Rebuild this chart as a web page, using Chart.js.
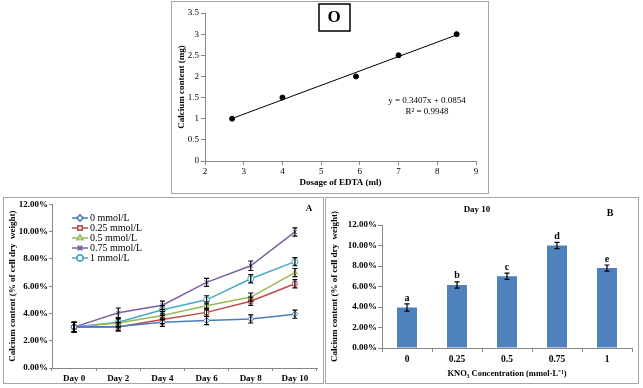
<!DOCTYPE html>
<html>
<head>
<meta charset="utf-8">
<script src="https://cdn.jsdelivr.net/npm/chart.js@4.4.1/dist/chart.umd.min.js"></script>
<style>
  body { margin: 0; background: #fff; }
  #wrap { position: relative; width: 643px; height: 388px; overflow: hidden; }
  .panel { position: absolute; border: 1px solid #a6a6a6; box-sizing: border-box; background: #fff; }
  canvas { display: block; }
</style>
</head>
<body>
<div id="wrap">
  <div class="panel" style="left:171px;top:1px;width:318px;height:193px"><canvas id="edtaChart" width="316" height="191"></canvas></div>
  <div class="panel" style="left:3px;top:197px;width:321px;height:187px"><canvas id="timeChart" width="319" height="185"></canvas></div>
  <div class="panel" style="left:325px;top:197px;width:314px;height:187px"><canvas id="day10Chart" width="312" height="185"></canvas></div>
</div>
<script>
// standard curve (top)
const edtaDose = [2.7, 4, 5.9, 7, 8.5];
const calciumMg = [1, 1.5, 2, 2.5, 3];
const fitSlope = 0.3407;
const fitIntercept = 0.0854;

// panel A: calcium content over time (%)
const days = ['Day 0', 'Day 2', 'Day 4', 'Day 6', 'Day 8', 'Day 10'];
const seriesNames = ['0 mmol/L', '0.25 mmol/L', '0.5 mmol/L', '0.75 mmol/L', '1 mmol/L'];
const ca0 = [3.0, 3.05, 3.35, 3.48, 3.6, 3.95];
const ca025 = [3.0, 3.0, 3.55, 4.08, 4.9, 6.18];
const ca05 = [3.0, 3.3, 3.85, 4.56, 5.2, 7.0];
const ca075 = [3.0, 4.05, 4.6, 6.28, 7.5, 9.98];
const ca1 = [3.0, 3.35, 4.27, 5.0, 6.55, 7.8];
const err0 = [0.35, 0.3, 0.3, 0.3, 0.3, 0.3];
const err025 = [0.35, 0.3, 0.3, 0.3, 0.3, 0.3];
const err05 = [0.35, 0.3, 0.3, 0.3, 0.3, 0.3];
const err075 = [0.35, 0.35, 0.3, 0.3, 0.35, 0.3];
const err1 = [0.35, 0.3, 0.3, 0.3, 0.3, 0.3];

// panel B: day 10
const kno3Levels = ['0', '0.25', '0.5', '0.75', '1'];
const day10Values = [3.95, 6.15, 7.0, 10.0, 7.8];
const day10Err = [0.35, 0.3, 0.3, 0.3, 0.3];
const sigLetters = ['a', 'b', 'c', 'd', 'e'];

const FONT = '"Liberation Serif", "Times New Roman", serif';
Chart.defaults.font.family = FONT;
Chart.defaults.color = '#000';
const AXIS = '#868686';

// error bars drawn through the chart's own scales
const errorBars = {
  id: 'errorBars',
  afterDatasetsDraw(chart) {
    const ctx = chart.ctx;
    const y = chart.scales.y;
    chart.data.datasets.forEach((ds, i) => {
      if (!ds.errors) return;
      const meta = chart.getDatasetMeta(i);
      meta.data.forEach((el, j) => {
        const v = ds.data[j];
        const e = ds.errors[j];
        const top = y.getPixelForValue(v + e);
        const bot = y.getPixelForValue(v - e);
        ctx.save();
        ctx.strokeStyle = '#000';
        ctx.lineWidth = 1.2;
        ctx.beginPath();
        ctx.moveTo(el.x, top); ctx.lineTo(el.x, bot);
        ctx.moveTo(el.x - 2.5, top); ctx.lineTo(el.x + 2.5, top);
        ctx.moveTo(el.x - 2.5, bot); ctx.lineTo(el.x + 2.5, bot);
        ctx.stroke();
        if (ds.letters) {
          ctx.font = 'bold 10px ' + FONT;
          ctx.fillStyle = '#000';
          ctx.textAlign = 'center';
          ctx.textBaseline = 'bottom';
          ctx.fillText(ds.letters[j], el.x, top - 1);
        }
        ctx.restore();
      });
    });
  }
};

// free text labels
const notes = {
  id: 'notes',
  afterDraw(chart, args, opts) {
    const ctx = chart.ctx;
    (opts.items || []).forEach(it => {
      ctx.save();
      ctx.font = it.font;
      ctx.fillStyle = '#000';
      ctx.textAlign = it.align || 'center';
      ctx.textBaseline = 'middle';
      if (it.box) {
        ctx.strokeStyle = '#000';
        ctx.lineWidth = 1.5;
        ctx.strokeRect(it.box[0], it.box[1], it.box[2], it.box[3]);
      }
      ctx.fillText(it.text, it.x, it.y);
      ctx.restore();
    });
  }
};

// legend inside panel A
const innerLegend = {
  id: 'innerLegend',
  afterDraw(chart) {
    const ctx = chart.ctx;
    chart.data.datasets.forEach((ds, i) => {
      const y = 20 + i * 10;
      ctx.save();
      ctx.strokeStyle = ds.borderColor;
      ctx.lineWidth = 1.5;
      ctx.beginPath();
      ctx.moveTo(68, y); ctx.lineTo(84, y);
      ctx.stroke();
      Chart.helpers.drawPoint(ctx, {
        pointStyle: ds.pointStyle, radius: 3, rotation: 0, borderWidth: 1
      }, 76, y);
      ctx.fillStyle = '#fff';
      ctx.strokeStyle = ds.borderColor;
      ctx.fill();
      ctx.stroke();
      ctx.font = '10px ' + FONT;
      ctx.fillStyle = '#000';
      ctx.textBaseline = 'middle';
      ctx.fillText(ds.label, 86, y + 0.5);
      ctx.restore();
    });
  }
};

// top: standard curve
new Chart(document.getElementById('edtaChart'), {
  type: 'scatter',
  data: {
    datasets: [{
      data: edtaDose.map((x, i) => ({ x: x, y: calciumMg[i] })),
      backgroundColor: '#000',
      borderColor: '#000',
      pointRadius: 2.5
    }, {
      type: 'line',
      data: [edtaDose[0], edtaDose[edtaDose.length - 1]].map(x => ({ x: x, y: fitSlope * x + fitIntercept })),
      borderColor: '#000',
      borderWidth: 1,
      pointRadius: 0
    }]
  },
  options: {
    responsive: false,
    animation: false,
    layout: { autoPadding: false, padding: { left: 0, right: 12, top: 11, bottom: 0 } },
    plugins: {
      legend: { display: false },
      tooltip: { enabled: false },
      notes: {
        items: [
          { text: 'O', x: 162, y: 16, font: 'bold 17px ' + FONT, box: [147, 2, 31, 27] },
          { text: 'y = 0.3407x + 0.0854', x: 255, y: 99, font: '9px ' + FONT },
          { text: 'R² = 0.9948', x: 255, y: 110, font: '9px ' + FONT }
        ]
      }
    },
    scales: {
      x: {
        type: 'linear', min: 2, max: 9,
        ticks: { stepSize: 1, font: { size: 9 }, padding: 1 },
        grid: { drawOnChartArea: false, tickLength: 4, color: AXIS },
        border: { color: AXIS },
        title: { display: true, text: 'Dosage of EDTA (ml)', font: { size: 9, weight: 'bold' }, padding: { top: 0, bottom: 5 } },
        afterFit: s => { s.height = 32; }
      },
      y: {
        min: 0, max: 3.5,
        ticks: { stepSize: 0.5, font: { size: 9 }, padding: 2, callback: v => String(v) },
        grid: { drawOnChartArea: false, tickLength: 4, color: AXIS },
        border: { color: AXIS },
        title: { display: true, text: 'Calcium content (mg)', font: { size: 9, weight: 'bold' }, padding: { top: 4, bottom: 0 } },
        afterFit: s => { s.width = 33; }
      }
    }
  },
  plugins: [notes]
});

// panel A: time course
const lineColors = ['#4A7EBB', '#BE4B48', '#98B954', '#7D60A0', '#46AAC5'];
const lineStyles = ['rectRot', 'rect', 'triangle', 'crossRot', 'circle'];
const lineData = [ca0, ca025, ca05, ca075, ca1];
const lineErr = [err0, err025, err05, err075, err1];

new Chart(document.getElementById('timeChart'), {
  type: 'line',
  data: {
    labels: days,
    datasets: seriesNames.map((name, i) => ({
      label: name,
      data: lineData[i],
      errors: lineErr[i],
      borderColor: lineColors[i],
      backgroundColor: '#fff',
      pointBorderColor: lineColors[i],
      pointBackgroundColor: '#fff',
      pointStyle: lineStyles[i],
      pointRadius: 3,
      pointBorderWidth: 1,
      borderWidth: 1.5,
      tension: 0
    }))
  },
  options: {
    responsive: false,
    animation: false,
    layout: { autoPadding: false, padding: { left: 0, right: 6, top: 6, bottom: 0 } },
    plugins: {
      legend: { display: false },
      tooltip: { enabled: false },
      notes: { items: [{ text: 'A', x: 305, y: 11, font: 'bold 9px ' + FONT }] }
    },
    scales: {
      x: {
        offset: true,
        ticks: { font: { size: 9, weight: 'bold' }, padding: 2 },
        grid: { offset: true, drawOnChartArea: false, tickLength: 3, color: AXIS },
        border: { color: AXIS },
        afterFit: s => { s.height = 15; }
      },
      y: {
        min: 0, max: 12,
        ticks: { stepSize: 2, font: { size: 9, weight: 'bold' }, padding: 1, callback: v => v.toFixed(2) + '%' },
        grid: { drawOnChartArea: false, tickLength: 3, color: AXIS },
        border: { color: AXIS },
        title: { display: true, text: 'Calcium content (% of cell dry  weight)', font: { size: 9, weight: 'bold' }, padding: { top: 3, bottom: 0 } },
        afterFit: s => { s.width = 48; }
      }
    }
  },
  plugins: [errorBars, innerLegend, notes]
});

// panel B: day 10 bars
new Chart(document.getElementById('day10Chart'), {
  type: 'bar',
  data: {
    labels: kno3Levels,
    datasets: [{
      data: day10Values,
      errors: day10Err,
      letters: sigLetters,
      backgroundColor: '#4F81BD',
      borderWidth: 0,
      categoryPercentage: 0.8,
      barPercentage: 0.5
    }]
  },
  options: {
    responsive: false,
    animation: false,
    layout: { autoPadding: false, padding: { left: 0, right: 6, top: 27, bottom: 0 } },
    plugins: {
      legend: { display: false },
      tooltip: { enabled: false },
      notes: {
        items: [
          { text: 'Day 10', x: 151, y: 12, font: 'bold 9px ' + FONT },
          { text: 'B', x: 284, y: 15, font: 'bold 10px ' + FONT }
        ]
      }
    },
    scales: {
      x: {
        ticks: { font: { size: 9.5, weight: 'bold' }, padding: 2 },
        grid: { offset: true, drawOnChartArea: false, tickLength: 4, color: AXIS },
        border: { color: AXIS },
        title: { display: true, text: 'KNO₃ Concentration (mmol·L⁻¹)', font: { size: 8.5, weight: 'bold' }, padding: { top: 0, bottom: 4 } },
        afterFit: s => { s.height = 35; }
      },
      y: {
        min: 0, max: 12,
        ticks: { stepSize: 2, font: { size: 9, weight: 'bold' }, padding: 1, callback: v => v.toFixed(2) + '%' },
        grid: { drawOnChartArea: false, tickLength: 4, color: AXIS },
        border: { color: AXIS },
        title: { display: true, text: 'Calcium content (% of cell dry  weight)', font: { size: 9, weight: 'bold' }, padding: { top: 3, bottom: 0 } },
        afterFit: s => { s.width = 56; }
      }
    }
  },
  plugins: [errorBars, notes]
});
</script>
</body>
</html>
